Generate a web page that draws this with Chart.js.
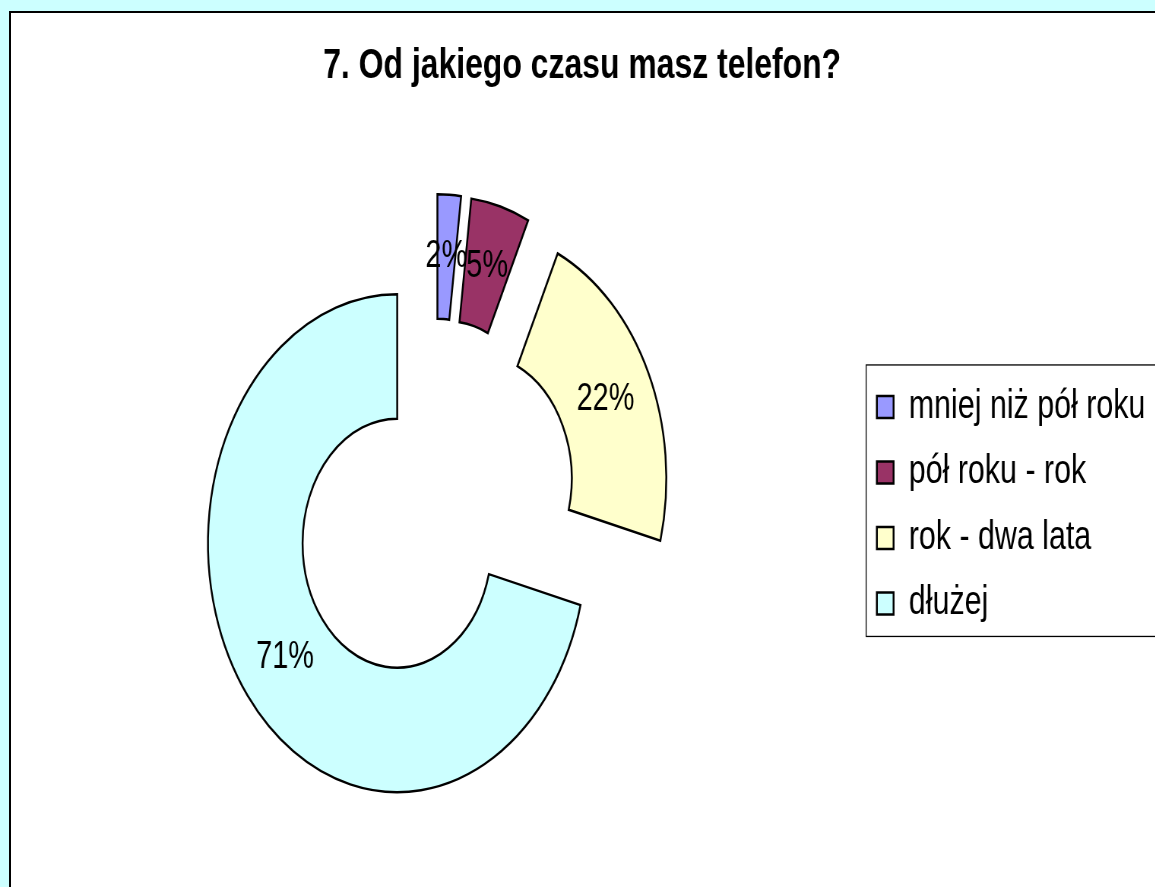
<!DOCTYPE html>
<html lang="pl">
<head>
<meta charset="utf-8">
<title>7. Od jakiego czasu masz telefon?</title>
<script src="https://cdn.jsdelivr.net/npm/chart.js@4.4.0/dist/chart.umd.min.js"></script>
<style>
    html, body { margin: 0; padding: 0; width: 1155px; height: 887px; overflow: hidden; background: #ccffff; }
    .frame { position: absolute; left: 9px; top: 11px; width: 1200px; height: 950px; background: #fff; border: 2px solid #000; }
    /* the original sheet is squeezed horizontally, so the whole canvas is too */
    .stretch { position: absolute; left: 0; top: 0; width: 1530px; height: 887px; transform: scaleX(0.76); transform-origin: 0 0; }
</style>
</head>
<body>
<div class="frame"></div>
<div class="stretch"><canvas id="phoneChart" width="1530" height="887"></canvas></div>
<script>
const chartTitle = '7. Od jakiego czasu masz telefon?';
const categories = ['mniej niż pół roku', 'pół roku - rok', 'rok - dwa lata', 'dłużej'];
const shares = [2, 5, 22, 71];
const sliceColors = ['#9999ff', '#993366', '#ffffcc', '#ccffff'];

const EXPLODE = 62; // how far each slice is pulled out of the ring

// --- Exploded slices + percent labels ---
const explodedSlices = {
    id: 'explodedSlices',
    beforeDatasetDraw(chart, args) {
        const ctx = chart.ctx;
        args.meta.data.forEach(arc => {
            const mid = (arc.startAngle + arc.endAngle) / 2;
            ctx.save();
            ctx.translate(Math.cos(mid) * EXPLODE, Math.sin(mid) * EXPLODE);
            arc.draw(ctx);
            ctx.restore();
        });
        return false; // skip the default (clipped) draw
    },
    afterDatasetsDraw(chart) {
        const ctx = chart.ctx;
        const meta = chart.getDatasetMeta(0);
        const total = shares.reduce((a, b) => a + b, 0);
        ctx.save();
        ctx.font = '38px "Liberation Sans", Arial, sans-serif';
        ctx.fillStyle = '#000';
        ctx.textAlign = 'center';
        ctx.textBaseline = 'middle';
        meta.data.forEach((arc, i) => {
            const mid = (arc.startAngle + arc.endAngle) / 2;
            const pos = arc.tooltipPosition();
            const label = Math.round(shares[i] / total * 100) + '%';
            ctx.fillText(label, pos.x + Math.cos(mid) * EXPLODE, pos.y + Math.sin(mid) * EXPLODE);
        });
        ctx.restore();
    }
};

// --- Thin frame round the legend (runs off the right edge like the original) ---
const legendFrame = {
    id: 'legendFrame',
    afterDraw(chart) {
        const boxes = chart.legend.legendHitBoxes;
        if (!boxes || !boxes.length) return;
        const first = boxes[0];
        const last = boxes[boxes.length - 1];
        const top = first.top - 22;
        const bottom = last.top + last.height + 13;
        const ctx = chart.ctx;
        ctx.save();
        ctx.strokeStyle = '#000';
        ctx.lineWidth = 1.3;
        ctx.strokeRect(first.left - 14, top, chart.width, bottom - top);
        ctx.restore();
    }
};

Chart.defaults.font.family = '"Liberation Sans", Arial, sans-serif';
Chart.defaults.color = '#000';

new Chart(document.getElementById('phoneChart'), {
    type: 'doughnut',
    data: {
        labels: categories,
        datasets: [{
            data: shares,
            backgroundColor: sliceColors,
            borderColor: '#000',
            borderWidth: 2.5,
            borderJoinStyle: 'miter'
        }]
    },
    options: {
        responsive: false,
        animation: false,
        events: [],
        radius: 249,
        cutout: '50%',
        layout: { padding: { left: 15, right: 13, top: 0, bottom: 0 } },
        plugins: {
            title: {
                display: true,
                text: chartTitle,
                color: '#000',
                font: { size: 42, weight: 'bold' },
                padding: { top: 41, bottom: 32 }
            },
            legend: {
                position: 'right',
                fullSize: false,
                labels: {
                    boxWidth: 22,
                    boxHeight: 22,
                    padding: 25.5,
                    color: '#000',
                    font: { size: 40 }
                }
            },
            tooltip: { enabled: false }
        }
    },
    plugins: [explodedSlices, legendFrame]
});
</script>
</body>
</html>
